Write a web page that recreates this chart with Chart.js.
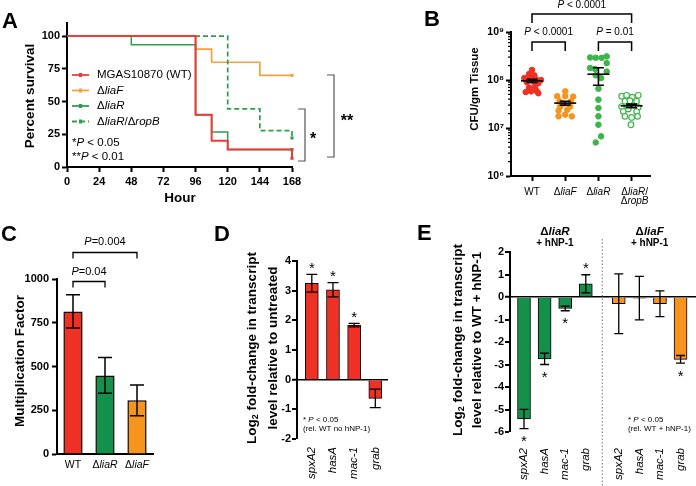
<!DOCTYPE html>
<html>
<head>
<meta charset="utf-8">
<title>liaR / liaF figure</title>
<script src="https://cdn.jsdelivr.net/npm/chart.js@4.4.1/dist/chart.umd.min.js"></script>
<style>
  html, body { margin: 0; padding: 0; background: #fff; }
  #fig { position: relative; width: 696px; height: 486px; overflow: hidden; }
  #fig canvas { position: absolute; left: 0; top: 0; }
</style>
</head>
<body>
<div id="fig">
  <canvas id="chartA" width="696" height="486"></canvas>
  <canvas id="chartB" width="696" height="486"></canvas>
  <canvas id="chartC" width="696" height="486"></canvas>
  <canvas id="chartD" width="696" height="486"></canvas>
  <canvas id="chartE" width="696" height="486"></canvas>
</div>
<script>
'use strict';

// ── Panel A: survival (percent) over hours ─────────────
const hourTicks = [0, 24, 48, 72, 96, 120, 144, 168];
const survTicks = [0, 25, 50, 75, 100];
const wtHours = [0, 96, 108, 120, 168];
const wtSurv = [100, 40, 20, 13.3, 6.7];
const liaFHours = [0, 96, 108, 144, 168];
const liaFSurv = [100, 90, 80, 70, 70];
const liaRHours = [0, 48, 96, 108, 120, 168];
const liaRSurv = [100, 93.3, 40, 26.7, 13.3, 13.3];
const ropBHours = [0, 120, 144, 168];
const ropBSurv = [100, 44.4, 27.8, 22.2];

// ── Panel B: CFU per gm tissue (one value per animal) ──
const cfuGroups = ['WT', 'ΔliaF', 'ΔliaR', 'ΔliaR/ΔropB'];
const cfuExp = [6, 7, 8, 9];
const cfuWT = [1.62e8, 1.33e8, 1.25e8, 1.1e8, 1.1e8, 1.05e8, 1.0e8, 9.1e7, 9.3e7, 8.6e7, 7.0e7, 7.2e7, 5.6e7, 5.8e7, 5.9e7, 5.3e7];
const cfuWTJit = [0, -0.09, 0.07, -0.23, -0.06, 0.11, 0.27, -0.16, 0.04, 0.19, -0.09, 0.09, -0.19, -0.03, 0.14, 0.19];
const cfuLiaF = [5.8e7, 4.6e7, 4.6e7, 4.5e7, 3.6e7, 3.6e7, 3.2e7, 2.8e7, 2.8e7, 2.3e7, 2.4e7, 1.9e7, 1.75e7, 1.75e7];
const cfuLiaFJit = [0, -0.24, 0, 0.24, -0.17, 0.17, -0.06, -0.15, 0.15, -0.2, 0.06, 0, -0.2, 0.2];
const cfuLiaR = [2.95e8, 2.9e8, 2.9e8, 3.1e8, 2.25e8, 1.78e8, 1.7e8, 1.5e8, 1.25e8, 1.1e8, 6.6e7, 3.9e7, 2.6e7, 1.75e7, 1.17e7, 6.7e6, 5.0e6];
const cfuLiaRJit = [-0.25, -0.08, 0.1, 0.25, 0.25, -0.25, -0.1, 0.25, -0.08, 0.08, 0, 0, 0, 0, 0, 0.08, -0.08];
const cfuRopB = [4.6e7, 4.8e7, 4.4e7, 4.8e7, 3.6e7, 3.7e7, 3.6e7, 2.8e7, 2.7e7, 2.2e7, 2.2e7, 1.75e7, 1.66e7, 1.75e7, 1.17e7, 2.5e7];
const cfuRopBJit = [-0.3, -0.15, 0.02, 0.2, -0.2, -0.05, 0.15, -0.3, 0.2, -0.25, 0.15, -0.2, 0, 0.18, -0.02, -0.1];
const cfuMean = [9.6e7, 3.3e7, 1.32e8, 2.9e7];
const cfuSemLo = [8.9e7, 3.0e7, 7.8e7, 2.65e7];
const cfuSemHi = [1.04e8, 3.6e7, 1.8e8, 3.15e7];

// ── Panel C: multiplication factor ──────────────────────
const mfGroups = ['WT', 'ΔliaR', 'ΔliaF'];
const mfValues = [815, 449, 307];
const mfSem = [95, 102, 88];
const mfTicks = [0, 250, 500, 750, 1000];

// ── Panel D: log2 fold change vs untreated ──────────────
const genes = ['spxA2', 'hasA', 'mac-1', 'grab'];
const untreatedFold = [3.25, 3.03, 1.84, -0.63];
const untreatedErr = [0.3, 0.24, 0.06, 0.31];
const untreatedSig = [1, 1, 1, 0];

// ── Panel E: log2 fold change vs WT + hNP-1 ─────────────
const liaRFold = [-5.42, -2.75, -0.51, 0.59];
const liaRErr = [0.43, 0.25, 0.1, 0.4];
const liaRSig = [1, 1, 1, 1];
const liaFFold = [-0.3, -0.05, -0.3, -2.77];
const liaFErr = [1.33, 0.97, 0.57, 0.17];
const liaFSig = [0, 0, 0, 1];

// ── Shared look ─────────────────────────────────────────
const W = 696, H = 486;
const FONT = '"Liberation Sans", Arial, Helvetica, sans-serif';
const RED = '#ee3124', ORANGE = '#f7941d', GREEN = '#15904a', LGREEN = '#3db54a';
const f = (size, bold, italic) => (italic ? 'italic ' : '') + (bold ? 'bold ' : '') + size + 'px ' + FONT;
const tickFont = { family: FONT, size: 11, weight: 'bold' };
const axisBorder = { display: true, color: '#000', width: 2 };
const tickGrid = { display: true, drawOnChartArea: false, drawTicks: true, tickLength: 5, tickWidth: 2, tickColor: '#000' };
const noGrid = { display: false, drawTicks: false };
const zeroGrid = {
    drawOnChartArea: true, drawTicks: true, tickLength: 5, tickWidth: 2, tickColor: '#000',
    color: c => (c.tick && c.tick.value === 0 ? '#000' : 'rgba(0,0,0,0)'),
    lineWidth: c => (c.tick && c.tick.value === 0 ? 1.5 : 0)
};

// pin the plot area of a full-size canvas to [left, top, right, bottom]
function area(box, yw, xh) {
    return {
        layout: { padding: { left: box[0] - yw, top: box[1], right: W - box[2], bottom: H - box[3] - xh } },
        yFit: s => { s.width = yw; s.paddingTop = 0; s.paddingBottom = 0; },
        xFit: s => { s.height = xh; s.paddingLeft = 0; s.paddingRight = 0; }
    };
}

function baseOptions(box, scales) {
    return {
        responsive: false, animation: false, devicePixelRatio: 1,
        layout: box.layout,
        plugins: { legend: { display: false }, tooltip: { enabled: false } },
        scales: scales
    };
}

const fixTicks = values => s => { s.ticks = values.map(v => ({ value: v })); };

// "ΔliaR/ΔropB" -> segments with the gene names in italics
function styled(name) {
    const out = [];
    let afterDelta = false;
    for (const t of name.match(/Δ|\/|[^Δ\/]+/g)) {
        out.push([t, t !== 'Δ' && t !== '/' && afterDelta ? 1 : 0]);
        afterDelta = t === 'Δ';
    }
    return out;
}

// mixed-style text; parts = [[text, font, dy]]
function rich(ctx, x, y, parts, align, rot) {
    ctx.save();
    ctx.translate(x, y);
    if (rot) ctx.rotate(rot);
    ctx.textBaseline = 'middle';
    ctx.textAlign = 'left';
    ctx.fillStyle = '#000';
    let w = 0;
    for (const p of parts) { ctx.font = p[1]; w += ctx.measureText(p[0]).width; }
    let cx = align === 'left' ? 0 : align === 'right' ? -w : -w / 2;
    for (const p of parts) {
        ctx.font = p[1];
        ctx.fillText(p[0], cx, p[2] || 0);
        cx += ctx.measureText(p[0]).width;
    }
    ctx.restore();
}

const styledParts = (name, size, bold) => styled(name).map(p => [p[0], f(size, bold, p[1])]);

function letter(ctx, ch, x, y) {
    ctx.save();
    ctx.font = f(22, true);
    ctx.textBaseline = 'alphabetic';
    ctx.fillStyle = '#000';
    ctx.fillText(ch, x, y);
    ctx.restore();
}

function star(ctx, text, x, cy, size, bold) {
    ctx.save();
    ctx.font = f(size, bold);
    ctx.textAlign = 'center';
    ctx.textBaseline = 'alphabetic';
    ctx.fillStyle = '#000';
    ctx.fillText(text, x, cy + 0.58 * size);
    ctx.restore();
}

function hBracket(ctx, x1, x2, y, drop) {
    ctx.beginPath();
    ctx.moveTo(x1, y + drop); ctx.lineTo(x1, y); ctx.lineTo(x2, y); ctx.lineTo(x2, y + drop);
    ctx.stroke();
}

function vBracket(ctx, x, y1, y2, len) {
    ctx.beginPath();
    ctx.moveTo(x - len, y1); ctx.lineTo(x, y1); ctx.lineTo(x, y2); ctx.lineTo(x - len, y2);
    ctx.stroke();
}

function errBar(ctx, x, y1, y2, half, lw) {
    ctx.save();
    ctx.strokeStyle = '#000';
    ctx.lineWidth = lw;
    ctx.beginPath();
    ctx.moveTo(x, y1); ctx.lineTo(x, y2);
    ctx.moveTo(x - half, y1); ctx.lineTo(x + half, y1);
    ctx.moveTo(x - half, y2); ctx.lineTo(x + half, y2);
    ctx.stroke();
    ctx.restore();
}

const pText = (pre, post, size) => [[pre, f(size)], ['P', f(size, false, true)], [post, f(size)]];

// ── A ───────────────────────────────────────────────────
const survSeries = [
    { name: 'MGAS10870 (WT)', hours: wtHours, surv: wtSurv, color: '#ef3b36', dash: [], order: 0, width: 2 },
    { name: 'ΔliaF', hours: liaFHours, surv: liaFSurv, color: '#f6a13a', dash: [], order: 3, width: 1.7 },
    { name: 'ΔliaR', hours: liaRHours, surv: liaRSurv, color: '#2f9e4c', dash: [], order: 2, width: 1.5 },
    { name: 'ΔliaR/ΔropB', hours: ropBHours, surv: ropBSurv, color: '#2f9e4c', dash: [5, 3], order: 1, width: 1.7 }
];

const boxA = area([67, 23, 292, 167], 40, 20);
new Chart(document.getElementById('chartA'), {
    type: 'line',
    data: {
        datasets: survSeries.map(s => ({
            data: s.hours.map((h, i) => ({ x: h, y: s.surv[i] })),
            borderColor: s.color,
            backgroundColor: s.color,
            borderWidth: s.width,
            borderDash: s.dash,
            stepped: true,
            fill: false,
            clip: false,
            order: s.order,
            pointStyle: 'rect',
            pointRadius: c => (c.dataIndex === s.hours.length - 1 ? 2.2 : 0),
            pointBorderWidth: 0
        }))
    },
    options: baseOptions(boxA, {
        x: {
            type: 'linear', min: 0, max: 168, afterFit: boxA.xFit,
            afterBuildTicks: fixTicks(hourTicks),
            grid: tickGrid, border: axisBorder,
            ticks: { font: tickFont, color: '#000', padding: 3, maxRotation: 0, autoSkip: false }
        },
        y: {
            type: 'linear', min: 0, max: 110, afterFit: boxA.yFit,
            afterBuildTicks: fixTicks(survTicks),
            grid: tickGrid, border: axisBorder,
            ticks: { font: tickFont, color: '#000', padding: 2, autoSkip: false }
        }
    }),
    plugins: [{
        id: 'annA',
        afterDraw(chart) {
            const ctx = chart.ctx;
            letter(ctx, 'A', 2, 28);
            rich(ctx, 30, 96, [['Percent survival', f(13.5, true)]], 'center', -Math.PI / 2);
            rich(ctx, 180, 198, [['Hour', f(13.5, true)]], 'center');

            survSeries.forEach((s, i) => {
                const y = 75 + i * 15.5;
                ctx.save();
                ctx.strokeStyle = s.color;
                ctx.lineWidth = 1.8;
                ctx.setLineDash(s.dash);
                ctx.beginPath(); ctx.moveTo(72, y); ctx.lineTo(89, y); ctx.stroke();
                ctx.fillStyle = s.color;
                ctx.fillRect(79, y - 2, 3, 4);
                ctx.restore();
                rich(ctx, 97, y, styledParts(s.name, 11.5), 'left');
            });
            rich(ctx, 72, 143, pText('*', ' < 0.05', 11.5), 'left');
            rich(ctx, 72, 157, pText('**', ' < 0.01', 11.5), 'left');

            ctx.save();
            ctx.strokeStyle = '#555';
            ctx.lineWidth = 1.2;
            vBracket(ctx, 305, 109, 161, 7);
            vBracket(ctx, 334, 75, 157, 7);
            ctx.restore();
            star(ctx, '*', 313, 135, 16, true);
            star(ctx, '**', 347, 117, 16, true);
        }
    }]
});

// ── B ───────────────────────────────────────────────────
const SUP = { 6: '⁶', 7: '⁷', 8: '⁸', 9: '⁹' };
const cfuSeries = [
    { values: cfuWT, jit: cfuWTJit, color: RED, open: false },
    { values: cfuLiaF, jit: cfuLiaFJit, color: ORANGE, open: false },
    { values: cfuLiaR, jit: cfuLiaRJit, color: LGREEN, open: false },
    { values: cfuRopB, jit: cfuRopBJit, color: LGREEN, open: true }
];

const boxB = area([511, 32, 650, 176], 45, 30);
new Chart(document.getElementById('chartB'), {
    type: 'scatter',
    data: {
        datasets: cfuSeries.map((s, g) => ({
            data: s.values.map((v, k) => ({ x: g + 1 + s.jit[k], y: v })),
            pointRadius: 2.8,
            pointBorderWidth: s.open ? 1.2 : 1,
            pointBorderColor: s.color,
            pointBackgroundColor: s.open ? '#fff' : s.color,
            clip: false
        }))
    },
    options: baseOptions(boxB, {
        x: {
            type: 'linear', min: 0.367, max: 4.554, afterFit: boxB.xFit,
            afterBuildTicks: fixTicks(cfuGroups.map((g, i) => i + 1)),
            grid: tickGrid, border: axisBorder,
            ticks: { display: false }
        },
        y: {
            type: 'logarithmic', min: 1e6, max: 1e9, afterFit: boxB.yFit,
            afterBuildTicks: fixTicks(cfuExp.map(e => Math.pow(10, e))),
            grid: tickGrid, border: axisBorder,
            ticks: {
                font: { family: FONT, size: 10.5, weight: 'bold' }, color: '#000', padding: 2, autoSkip: false,
                callback: v => '10' + SUP[Math.round(Math.log10(v))]
            }
        }
    }),
    plugins: [{
        id: 'annB',
        afterDraw(chart) {
            const ctx = chart.ctx;
            const xs = chart.scales.x, ys = chart.scales.y;
            const px = i => xs.getPixelForValue(i + 1);
            letter(ctx, 'B', 424, 26);
            rich(ctx, 475, 89, [['CFU/gm Tissue', f(11.5, true)]], 'center', -Math.PI / 2);

            // minor log ticks
            ctx.save();
            ctx.strokeStyle = '#000';
            ctx.lineWidth = 1.3;
            ctx.beginPath();
            for (let e = 6; e < 9; e++) {
                for (let m = 2; m <= 9; m++) {
                    const y = ys.getPixelForValue(m * Math.pow(10, e));
                    ctx.moveTo(xs.left - 3, y); ctx.lineTo(xs.left, y);
                }
            }
            ctx.stroke();
            ctx.restore();

            // mean ± SEM
            cfuMean.forEach((m, i) => {
                const x = px(i);
                ctx.save();
                ctx.strokeStyle = '#000';
                ctx.lineWidth = 1.6;
                ctx.beginPath();
                ctx.moveTo(x - 11, ys.getPixelForValue(m)); ctx.lineTo(x + 11, ys.getPixelForValue(m));
                ctx.stroke();
                ctx.restore();
                errBar(ctx, x, ys.getPixelForValue(cfuSemHi[i]), ys.getPixelForValue(cfuSemLo[i]), 5.5, 1.6);
            });

            // category labels
            cfuGroups.forEach((g, i) => {
                const cut = g.indexOf('/');
                const lines = cut < 0 ? [g] : [g.slice(0, cut + 1), g.slice(cut + 1)];
                lines.forEach((ln, j) => rich(ctx, px(i) + (cut < 0 ? 0 : 3), 192 + j * 9.5, styledParts(ln, 10), 'center'));
            });

            // significance
            ctx.save();
            ctx.strokeStyle = '#000';
            ctx.lineWidth = 1.5;
            hBracket(ctx, px(0), px(3), 14, 9);
            hBracket(ctx, px(0), px(1), 42, 9);
            hBracket(ctx, px(2), px(3), 42, 9);
            ctx.restore();
            rich(ctx, (px(0) + px(3)) / 2, 5, pText('', ' < 0.0001', 10), 'center');
            rich(ctx, (px(0) + px(1)) / 2, 32, pText('', ' < 0.0001', 10), 'center');
            rich(ctx, (px(2) + px(3)) / 2, 32, pText('', ' = 0.01', 10), 'center');
        }
    }]
});

// ── C ───────────────────────────────────────────────────
const boxC = area([57, 279, 153, 454], 40, 25);
new Chart(document.getElementById('chartC'), {
    type: 'bar',
    data: {
        labels: mfGroups,
        datasets: [{
            data: mfValues,
            backgroundColor: [RED, GREEN, ORANGE],
            borderColor: '#000',
            borderWidth: 1.5,
            barPercentage: 0.6,
            categoryPercentage: 1
        }]
    },
    options: baseOptions(boxC, {
        x: {
            type: 'category', afterFit: boxC.xFit,
            grid: noGrid, border: axisBorder,
            ticks: { display: false }
        },
        y: {
            type: 'linear', min: 0, max: 1000, afterFit: boxC.yFit,
            afterBuildTicks: fixTicks(mfTicks),
            grid: tickGrid, border: axisBorder,
            ticks: { font: tickFont, color: '#000', padding: 3, autoSkip: false, callback: v => String(v) }
        }
    }),
    plugins: [{
        id: 'annC',
        afterDraw(chart) {
            const ctx = chart.ctx;
            const xs = chart.scales.x, ys = chart.scales.y;
            letter(ctx, 'C', 1, 241);
            rich(ctx, 20, 361, [['Multiplication Factor', f(13.5, true)]], 'center', -Math.PI / 2);
            mfValues.forEach((v, i) => {
                const x = xs.getPixelForValue(i);
                errBar(ctx, x, ys.getPixelForValue(v + mfSem[i]), ys.getPixelForValue(v - mfSem[i]), 7, 1.5);
                rich(ctx, x, 465, styledParts(mfGroups[i], 10.5), 'center');
            });
            const x0 = xs.getPixelForValue(0), x1 = xs.getPixelForValue(1), x2 = xs.getPixelForValue(2);
            ctx.save();
            ctx.strokeStyle = '#000';
            ctx.lineWidth = 1.3;
            hBracket(ctx, x0, x2, 252.5, 6);
            hBracket(ctx, x0, x1, 281.5, 6);
            ctx.restore();
            rich(ctx, (x0 + x2) / 2, 242, pText('', '=0.004', 11), 'center');
            rich(ctx, (x0 + x1) / 2, 272, pText('', '=0.04', 11), 'center');
        }
    }]
});

// ── D ───────────────────────────────────────────────────
const boxD = area([297, 261, 388, 439], 30, 47);
new Chart(document.getElementById('chartD'), {
    type: 'bar',
    data: {
        datasets: [{
            data: genes.map((g, i) => ({ x: i + 1, y: untreatedFold[i] })),
            backgroundColor: RED,
            borderColor: '#000',
            borderWidth: 1,
            barThickness: 13,
            grouped: false
        }]
    },
    options: baseOptions(boxD, {
        x: {
            type: 'linear', min: 0.3, max: 4.6, offset: false, afterFit: boxD.xFit,
            afterBuildTicks: fixTicks(genes.map((g, i) => i + 1)),
            grid: noGrid, border: { display: false },
            ticks: {
                callback: (v, i) => genes[i], autoSkip: false, minRotation: 90, maxRotation: 90, padding: 8,
                font: { family: FONT, size: 11.5, style: 'italic' }, color: '#000'
            }
        },
        y: {
            type: 'linear', min: -2, max: 4, afterFit: boxD.yFit,
            ticks: { stepSize: 1, font: tickFont, color: '#000', padding: 1 },
            grid: zeroGrid, border: axisBorder
        }
    }),
    plugins: [{
        id: 'annD',
        afterDraw(chart) {
            const ctx = chart.ctx;
            const xs = chart.scales.x, ys = chart.scales.y;
            letter(ctx, 'D', 214, 241);
            const tf = f(13.5, true);
            rich(ctx, 252, 348, [['Log', tf], ['2', f(9, true), 4], [' fold-change in transcript', tf]], 'center', -Math.PI / 2);
            rich(ctx, 273, 348, [['level relative to untreated', tf]], 'center', -Math.PI / 2);
            untreatedFold.forEach((v, i) => {
                const x = xs.getPixelForValue(i + 1);
                const hi = ys.getPixelForValue(v + untreatedErr[i]);
                const lo = ys.getPixelForValue(v - untreatedErr[i]);
                errBar(ctx, x, hi, lo, 5.5, 1.3);
                if (untreatedSig[i]) star(ctx, '*', x, v >= 0 ? hi - 10 : lo + 10, 15);
            });
            rich(ctx, 303, 420, pText('* ', ' < 0.05', 8), 'left');
            rich(ctx, 303, 429, [['(rel. WT no hNP-1)', f(8)]], 'left');
        }
    }]
});

// ── E ───────────────────────────────────────────────────
const GROUP_GAP = 4.6;
const eSeries = [
    { name: 'ΔliaR', fold: liaRFold, err: liaRErr, sig: liaRSig, color: GREEN, offset: 0 },
    { name: 'ΔliaF', fold: liaFFold, err: liaFErr, sig: liaFSig, color: ORANGE, offset: GROUP_GAP }
];
const ePositions = eSeries.flatMap(s => genes.map((g, i) => i + 1 + s.offset));

const boxE = area([510, 252, 696, 432], 30, 54);
new Chart(document.getElementById('chartE'), {
    type: 'bar',
    data: {
        datasets: eSeries.map(s => ({
            data: genes.map((g, i) => ({ x: i + 1 + s.offset, y: s.fold[i] })),
            backgroundColor: s.color,
            borderColor: '#000',
            borderWidth: 1,
            barThickness: 13,
            grouped: false
        }))
    },
    options: baseOptions(boxE, {
        x: {
            type: 'linear', min: 0.32, max: 9.35, offset: false, afterFit: boxE.xFit,
            afterBuildTicks: fixTicks(ePositions),
            grid: noGrid, border: { display: false },
            ticks: {
                callback: (v, i) => genes[i % genes.length], autoSkip: false, minRotation: 90, maxRotation: 90, padding: 16,
                font: { family: FONT, size: 11.5, style: 'italic' }, color: '#000'
            }
        },
        y: {
            type: 'linear', min: -6, max: 2, afterFit: boxE.yFit,
            ticks: { stepSize: 1, font: tickFont, color: '#000', padding: 1 },
            grid: zeroGrid, border: axisBorder
        }
    }),
    plugins: [{
        id: 'annE',
        afterDraw(chart) {
            const ctx = chart.ctx;
            const xs = chart.scales.x, ys = chart.scales.y;
            letter(ctx, 'E', 417, 240);
            const tf = f(13.5, true);
            rich(ctx, 458, 340, [['Log', tf], ['2', f(9, true), 4], [' fold-change in transcript', tf]], 'center', -Math.PI / 2);
            rich(ctx, 477, 340, [['level relative to WT + hNP-1', tf]], 'center', -Math.PI / 2);

            // divider between the two strains
            const xDiv = (xs.getPixelForValue(genes.length) + xs.getPixelForValue(1 + GROUP_GAP)) / 2;
            ctx.save();
            ctx.strokeStyle = '#777';
            ctx.lineWidth = 1;
            ctx.setLineDash([1.5, 2]);
            ctx.beginPath(); ctx.moveTo(xDiv, 239); ctx.lineTo(xDiv, H); ctx.stroke();
            ctx.restore();

            eSeries.forEach(s => {
                const xc = (xs.getPixelForValue(1 + s.offset) + xs.getPixelForValue(genes.length + s.offset)) / 2;
                rich(ctx, xc, 232, styledParts(s.name, 11.5, true), 'center');
                rich(ctx, xc, 243, [['+ hNP-1', f(10, true)]], 'center');
                s.fold.forEach((v, i) => {
                    const x = xs.getPixelForValue(i + 1 + s.offset);
                    const hi = ys.getPixelForValue(v + s.err[i]);
                    const lo = ys.getPixelForValue(v - s.err[i]);
                    errBar(ctx, x, hi, lo, 4.5, 1.3);
                    if (s.sig[i]) star(ctx, '*', x, v >= 0 ? hi - 10 : lo + 9, 15);
                });
            });
            rich(ctx, 628, 420, pText('* ', ' < 0.05', 8), 'left');
            rich(ctx, 628, 429, [['(rel. WT + hNP-1)', f(8)]], 'left');
        }
    }]
});
</script>
</body>
</html>
